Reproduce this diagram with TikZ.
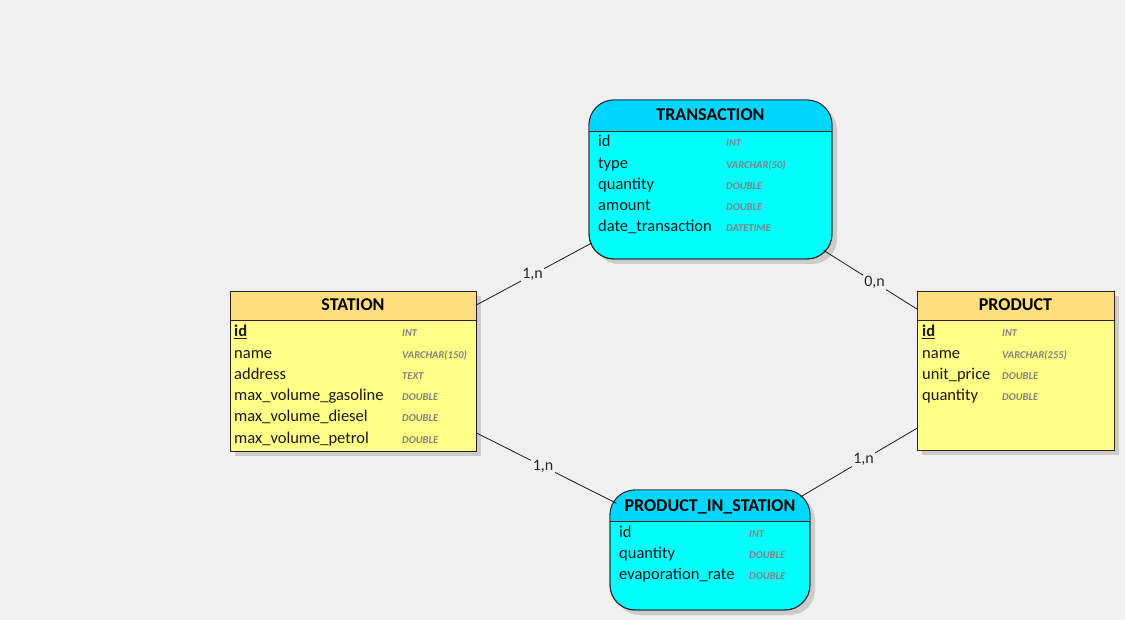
\documentclass[tikz,border=0pt]{standalone}
\usepackage{fontspec}
\setmainfont{Carlito}
\usepackage{tikz}
\usetikzlibrary{shadows}
\definecolor{canvas}{RGB}{240,240,240}
\definecolor{tblHead}{RGB}{255,222,128}
\definecolor{tblBody}{RGB}{255,255,136}
\definecolor{linkHeadCol}{RGB}{0,214,255}
\definecolor{linkBodyCol}{RGB}{0,255,255}
\newcommand{\RowGap}{21.2}
\tikzset{
  erBox/.style={rectangle, draw=black!85, line width=0.9pt, inner sep=0pt, outer sep=0pt,
    drop shadow={shadow xshift=5pt, shadow yshift=-5pt, fill=black!20, opacity=1}},
  tableBox/.style={erBox, fill=tblBody},            % plain tables
  linkBox/.style={erBox, fill=linkBodyCol, rounded corners=25pt}, % link entities
  tableHead/.style={fill=tblHead},
  linkHead/.style={fill=linkHeadCol},
  entTitle/.style={font=\fontsize{18}{20}\selectfont\bfseries, anchor=base, inner sep=0pt},
  field/.style={font=\fontsize{16.5}{18}\selectfont, anchor=base west, inner sep=0pt, text=black!90},
  ftype/.style={font=\fontsize{10.5}{12}\selectfont\bfseries\itshape, anchor=base west, inner sep=0pt, text=black!50},
  rel/.style={line width=0.8pt, draw=black!90},
  card/.style={fill=canvas, font=\fontsize{16}{18}\selectfont, inner sep=1.5pt, text=black!85}
}
\newcommand{\HeadBand}[4]{% #1=node, #2=band bottom y, #3=fill style, #4=corner radius
  \begin{scope}
    \clip (#1.north west) rectangle (#1.east |- 0,#2);
    \path[#3, rounded corners=#4] (#1.north west) rectangle (#1.south east);
  \end{scope}
  \draw[line width=0.9pt, draw=black!85, rounded corners=#4] (#1.north west) rectangle (#1.south east);
  \draw[line width=0.9pt, draw=black!85] (#1.west |- 0,#2) -- (#1.east |- 0,#2);
}
\newcommand{\FieldRows}[5]{% #1=prefix, #2=name x, #3=type x, #4=first baseline, #5="name/type,..."
  \foreach \fname/\ftype [count=\i] in {#5}{%
    \node[field] (#1-n\i) at (#2, {#4+\RowGap*(\i-1)}) {\fname};
    \node[ftype] (#1-t\i) at (#3, {#4+\RowGap*(\i-1)}) {\ftype};
  }%
}

\begin{document}
\begin{tikzpicture}[x=1pt, y=-1pt]
  % Canvas
  \fill[canvas] (0,0) rectangle (1125,620);
  \useasboundingbox (0,0) rectangle (1125,620);
  % Boxes
  \node[linkBox, minimum width=243pt, minimum height=159pt] (trans) at (710.5,179.5) {};
  \node[tableBox, minimum width=246pt, minimum height=160pt] (station) at (353,371) {};
  \node[tableBox, minimum width=197pt, minimum height=159pt] (product) at (1015.5,370.5) {};
  \node[linkBox, minimum width=200pt, minimum height=120pt] (pis) at (710,550) {};
  % Header bands
  \HeadBand{trans}{131}{linkHead}{25pt}
  \HeadBand{station}{320}{tableHead}{0pt}
  \HeadBand{product}{320}{tableHead}{0pt}
  \HeadBand{pis}{521}{linkHead}{25pt}
  % Titles
  \node[entTitle] (trans-title) at (710.5,121) {TRANSACTION};
  \node[entTitle] (station-title) at (353,311) {STATION};
  \node[entTitle] (product-title) at (1015.5,311) {PRODUCT};
  \node[entTitle] (pis-title) at (710,511) {PRODUCT\_IN\_STATION};
  % Fields
  \FieldRows{trans}{598}{726}{147}{id/INT, type/VARCHAR(50), quantity/DOUBLE,
    amount/DOUBLE, date\_transaction/DATETIME}
  \FieldRows{station}{234}{402}{337}{\textbf{\underline{id}}/INT, name/VARCHAR(150),
    address/TEXT, max\_volume\_gasoline/DOUBLE, max\_volume\_diesel/DOUBLE,
    max\_volume\_petrol/DOUBLE}
  \FieldRows{product}{922}{1002}{337}{\textbf{\underline{id}}/INT, name/VARCHAR(255),
    unit\_price/DOUBLE, quantity/DOUBLE}
  \FieldRows{pis}{619}{749}{537}{id/INT, quantity/DOUBLE, evaporation\_rate/DOUBLE}
  % Relationships
  \draw[rel, shorten >=-3pt] (station) -- node[card] (card-st) {1,n} (trans);
  \draw[rel, shorten <=-10pt] (trans) -- node[card, pos=0.5] (card-tp) {0,n} (product);
  \draw[rel, shorten >=-7pt] (station) -- node[card] (card-sp) {1,n} (pis);
  \draw[rel, shorten <=-11pt] (pis) -- node[card] (card-pp) {1,n} (product);
\end{tikzpicture}
\end{document}
